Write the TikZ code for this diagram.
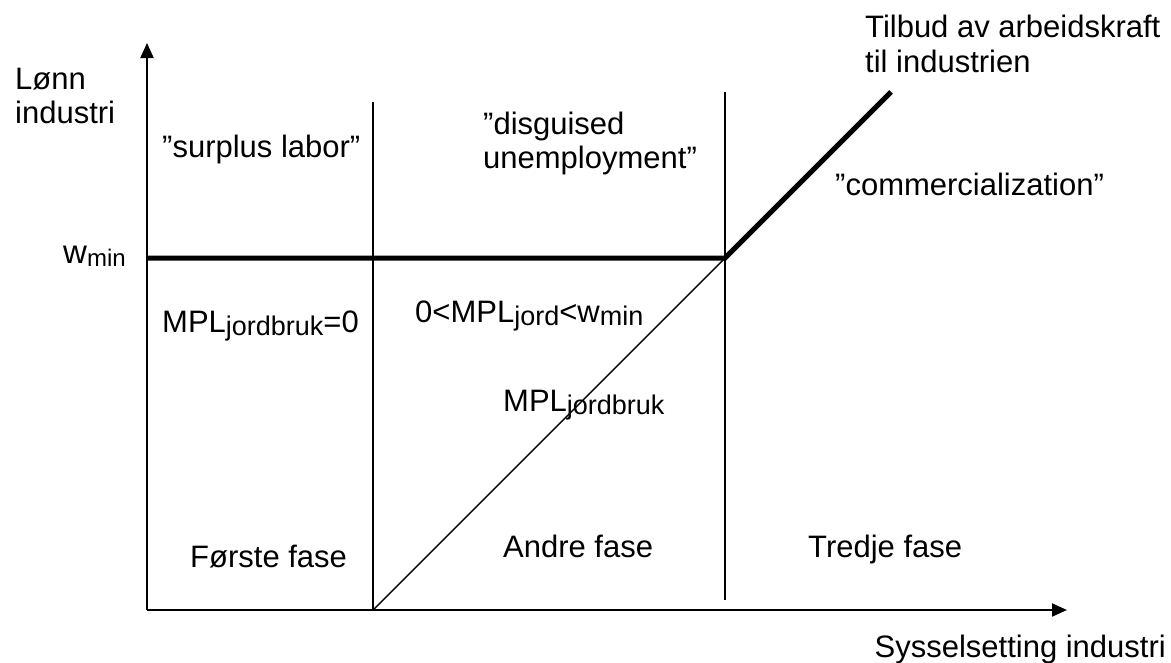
\documentclass[tikz,border=0pt]{standalone}
\usepackage{fontspec}
\setmainfont{Liberation Sans}
\usepackage{tikz}
\usetikzlibrary{arrows.meta}
\tikzstyle{axis} = [line width=2pt, -{Triangle[length=15pt, width=13pt]}]
\tikzstyle{divider} = [line width=1.8pt]
\tikzstyle{wage} = [line width=5pt]
\tikzstyle{mplline} = [line width=1.4pt]
\tikzstyle{label} = [font=\fontsize{31}{34}\selectfont, inner sep=0pt, align=left]
\newcommand{\lowtxt}[2][27]{\raisebox{-3pt}{\fontsize{#1}{#1}\selectfont #2}}

\begin{document}
\begin{tikzpicture}[x=1pt, y=-1pt]
    \useasboundingbox (0,0) rectangle (1171,662);

    \coordinate (origin) at (147,610);
    \coordinate (ytop) at (147,43);
    \coordinate (xend) at (1067,610);
    \coordinate (split1) at (373,610);
    \coordinate (split1top) at (373,102);
    \coordinate (split2) at (725,600);
    \coordinate (split2top) at (725,92);
    \coordinate (wminleft) at (147,258);
    \coordinate (kink) at (725,258);
    \coordinate (supplyend) at (891,92);

    % axes
    \draw[axis] (origin) -- (ytop);
    \draw[axis] (origin) -- (xend);

    % phase borders
    \draw[divider] (split1) -- (split1top);
    \draw[divider] (split2) -- (split2top);

    % supply of labour and MPL
    \draw[mplline] (split1) -- (kink);
    \draw[wage, line join=miter] (wminleft) -- (kink) -- (supplyend);

    \node(ylabel)[label, anchor=north west] at (15,68) {Lønn\\industri};
    \node(xlabel)[label, anchor=base east] at (1166,657) {Sysselsetting industri};
    \node(wmin)[label, anchor=base west] at (63,263) {{\fontsize{33}{33}\selectfont w}\lowtxt[24]{min}};
    \node(supply)[label, anchor=north west, font=\fontsize{31}{35}\selectfont] at (865,15) {Tilbud av arbeidskraft\\til industrien};

    \node(surplus)[label, anchor=base west] at (162,157) {”surplus labor”};
    \node(disguised)[label, anchor=north west] at (483,112) {”disguised\\unemployment”};
    \node(commerce)[label, anchor=base west] at (835,195) {”commercialization”};

    \node(mplzero)[label, anchor=base west] at (162,332) {MPL\lowtxt{jordbruk}=0};
    \node(mplmid)[label, anchor=base west] at (415,322) {0<MPL\lowtxt{jord}<w\lowtxt{min}};
    \node(mpl)[label, anchor=base west] at (503,411) {MPL\lowtxt{jordbruk}};

    \node(fase1)[label, anchor=base west] at (190,567) {Første fase};
    \node(fase2)[label, anchor=base west] at (503,557) {Andre fase};
    \node(fase3)[label, anchor=base west] at (808,557) {Tredje fase};

\end{tikzpicture}
\end{document}
